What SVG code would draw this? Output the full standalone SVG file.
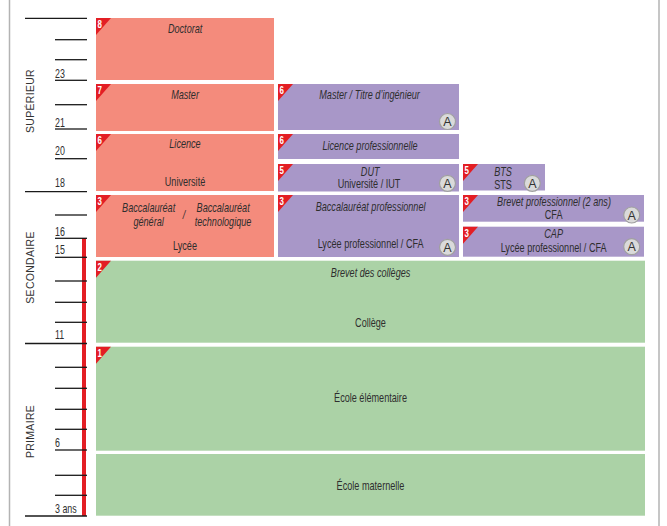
<svg xmlns="http://www.w3.org/2000/svg" width="667" height="526" viewBox="0 0 667 526">
<defs>
<style>
.f{font-family:"Liberation Sans",Arial,sans-serif;transform-box:fill-box;transform-origin:center;transform:scaleX(0.76);}
.lbl{font-size:12px;fill:#2e2e2e;text-anchor:middle;}
.it{font-style:italic;}
.num{font-size:12px;fill:#2e2e2e;transform-origin:left center;transform:scaleX(0.74);}
.sec{font-family:"Liberation Sans",sans-serif;font-size:10.5px;fill:#333;text-anchor:middle;letter-spacing:0.3px;}
.red{fill:#F48B7C;}
.pur{fill:#A897C8;}
.grn{fill:#ABD2A6;}
.tick{stroke:#1a1a1a;stroke-width:1.3;}
.badge{fill:#E31E24;}
.bn{font-size:11px;font-weight:bold;fill:#fff;transform-origin:left center;transform:scaleX(0.72);}
.ac{fill:#DADADA;stroke:#A0A0A0;stroke-width:1.2;}
.at{font-family:"Liberation Sans",sans-serif;font-size:12.5px;fill:#333;text-anchor:middle;}
</style>
<g id="bdg"><path class="badge" d="M0 0H15L0 17Z"/></g>
<g id="abadge"><circle class="ac" r="8"/></g>
</defs>
<rect width="667" height="526" fill="#fff"/>
<line x1="9.5" y1="0" x2="9.5" y2="526" stroke="#b3b3b3" stroke-width="1.5"/>
<line x1="659" y1="0" x2="659" y2="526" stroke="#b3b3b3" stroke-width="1.5"/>

<g id="axis">
<rect x="82" y="238" width="4" height="278" fill="#E31E24"/>
<g class="tick">
<line x1="25" y1="18.3" x2="87" y2="18.3"/>
<line x1="55" y1="39.7" x2="87" y2="39.7"/>
<line x1="55" y1="59.7" x2="87" y2="59.7"/>
<line x1="55" y1="80.3" x2="87" y2="80.3"/>
<line x1="55" y1="104.7" x2="87" y2="104.7"/>
<line x1="55" y1="129" x2="87" y2="129"/>
<line x1="55" y1="158.7" x2="87" y2="158.7"/>
<line x1="25" y1="191.7" x2="87" y2="191.7"/>
<line x1="55" y1="215" x2="87" y2="215"/>
<line x1="55" y1="238.3" x2="87" y2="238.3"/>
<line x1="55" y1="257.3" x2="87" y2="257.3"/>
<line x1="55" y1="281" x2="87" y2="281"/>
<line x1="55" y1="302.3" x2="87" y2="302.3"/>
<line x1="55" y1="322.3" x2="87" y2="322.3"/>
<line x1="25" y1="343.5" x2="87" y2="343.5"/>
<line x1="55" y1="367.3" x2="87" y2="367.3"/>
<line x1="55" y1="388.3" x2="87" y2="388.3"/>
<line x1="55" y1="409.3" x2="87" y2="409.3"/>
<line x1="55" y1="429.3" x2="87" y2="429.3"/>
<line x1="55" y1="450" x2="87" y2="450"/>
<line x1="55" y1="475.3" x2="87" y2="475.3"/>
<line x1="55" y1="495.3" x2="87" y2="495.3"/>
<line x1="25" y1="516" x2="87" y2="516"/>
</g>
<g id="ages">
<text class="f num" x="55" y="78.5">23</text>
<text class="f num" x="55" y="127.5">21</text>
<text class="f num" x="55" y="155">20</text>
<text class="f num" x="55" y="187.5">18</text>
<text class="f num" x="55" y="236">16</text>
<text class="f num" x="55" y="254.5">15</text>
<text class="f num" x="55" y="339.5">11</text>
<text class="f num" x="55" y="447.5">6</text>
<text class="f num" x="55" y="513.5">3 ans</text>
</g>
<text class="sec" transform="translate(33.5,101) rotate(-90)">SUPÉRIEUR</text>
<text class="sec" transform="translate(33.5,267.5) rotate(-90)">SECONDAIRE</text>
<text class="sec" transform="translate(33.5,431.5) rotate(-90)">PRIMAIRE</text>
</g>

<g id="doctorat">
<rect class="red" x="96" y="18" width="178" height="62"/>
<use href="#bdg" x="96" y="18"/><text class="f bn" x="97.5" y="28">8</text>
<text class="f lbl it" x="185" y="33.5">Doctorat</text>
</g>
<g id="master">
<rect class="red" x="96" y="84" width="178" height="47"/>
<use href="#bdg" x="96" y="84"/><text class="f bn" x="97.5" y="94">7</text>
<text class="f lbl it" x="185" y="99.5">Master</text>
</g>
<g id="licence">
<rect class="red" x="96" y="134" width="178" height="57"/>
<use href="#bdg" x="96" y="134"/><text class="f bn" x="97.5" y="144">6</text>
<text class="f lbl it" x="185" y="148">Licence</text>
<text class="f lbl" x="185" y="186">Université</text>
</g>
<g id="lycee">
<rect class="red" x="96" y="195" width="178" height="62"/>
<use href="#bdg" x="96" y="195"/><text class="f bn" x="97.5" y="205">3</text>
<text class="f lbl it" x="148.5" y="212.5">Baccalauréat</text>
<text class="f lbl it" x="148.5" y="226.5">général</text>
<text class="f lbl it" x="184" y="219" font-size="9" fill="#777">/</text>
<text class="f lbl it" x="223" y="212.5">Baccalauréat</text>
<text class="f lbl it" x="223" y="226.5">technologique</text>
<text class="f lbl" x="185" y="250">Lycée</text>
</g>

<g id="master-ing">
<rect class="pur" x="278" y="84" width="181" height="46"/>
<use href="#bdg" x="278" y="84"/><text class="f bn" x="279.5" y="94">6</text>
<text class="f lbl it" x="369.5" y="99.5">Master / Titre d’ingénieur</text>
<use href="#abadge" x="447.5" y="121.5"/><text class="at" x="447.5" y="126">A</text>
</g>
<g id="licence-pro">
<rect class="pur" x="278" y="134" width="181" height="25"/>
<use href="#bdg" x="278" y="134"/><text class="f bn" x="279.5" y="144">6</text>
<text class="f lbl it" x="370" y="150">Licence professionnelle</text>
</g>
<g id="dut">
<rect class="pur" x="278" y="164" width="181" height="27.5"/>
<use href="#bdg" x="278" y="164"/><text class="f bn" x="279.5" y="174">5</text>
<text class="f lbl it" x="370" y="176">DUT</text>
<text class="f lbl" x="369" y="188.5">Université / IUT</text>
<use href="#abadge" x="447.5" y="183.3"/><text class="at" x="447.5" y="187.8">A</text>
</g>
<g id="bts">
<rect class="pur" x="463" y="164" width="82" height="26.5"/>
<use href="#bdg" x="463" y="164"/><text class="f bn" x="464.5" y="174">5</text>
<text class="f lbl it" x="503" y="176">BTS</text>
<text class="f lbl" x="503" y="189.5">STS</text>
<use href="#abadge" x="532.3" y="183.3"/><text class="at" x="532.3" y="187.8">A</text>
</g>
<g id="bac-pro">
<rect class="pur" x="278" y="195" width="181" height="62"/>
<use href="#bdg" x="278" y="195"/><text class="f bn" x="279.5" y="205">3</text>
<text class="f lbl it" x="370.5" y="211">Baccalauréat professionnel</text>
<text class="f lbl" x="370.5" y="248.5">Lycée professionnel / CFA</text>
<use href="#abadge" x="447.5" y="247.3"/><text class="at" x="447.5" y="251.8">A</text>
</g>
<g id="brevet-pro">
<rect class="pur" x="463" y="195" width="181" height="26.7"/>
<use href="#bdg" x="463" y="195"/><text class="f bn" x="464.5" y="205">3</text>
<text class="f lbl it" x="554" y="206">Brevet professionnel (2 ans)</text>
<text class="f lbl" x="553.5" y="219">CFA</text>
<use href="#abadge" x="631.7" y="215"/><text class="at" x="631.7" y="219.5">A</text>
</g>
<g id="cap">
<rect class="pur" x="463" y="226.7" width="181" height="30"/>
<use href="#bdg" x="463" y="226.7"/><text class="f bn" x="464.5" y="236.7">3</text>
<text class="f lbl it" x="553.5" y="238">CAP</text>
<text class="f lbl" x="553.5" y="252">Lycée professionnel / CFA</text>
<use href="#abadge" x="631.7" y="246.7"/><text class="at" x="631.7" y="251.2">A</text>
</g>

<g id="college">
<rect class="grn" x="96" y="260.7" width="549" height="82"/>
<use href="#bdg" x="96" y="260.7"/><text class="f bn" x="97.5" y="270.7">2</text>
<text class="f lbl it" x="370.5" y="277.5">Brevet des collèges</text>
<text class="f lbl" x="370.5" y="327.5">Collège</text>
</g>
<g id="elementaire">
<rect class="grn" x="96" y="346.7" width="549" height="104"/>
<use href="#bdg" x="96" y="346.7"/><text class="f bn" x="97.5" y="356.7">1</text>
<text class="f lbl" x="370.5" y="402.5">École élémentaire</text>
</g>
<g id="maternelle">
<rect class="grn" x="96" y="454" width="549" height="61.7"/>
<text class="f lbl" x="370.5" y="490.5">École maternelle</text>
</g>
<g id="connectors"/>
</svg>
